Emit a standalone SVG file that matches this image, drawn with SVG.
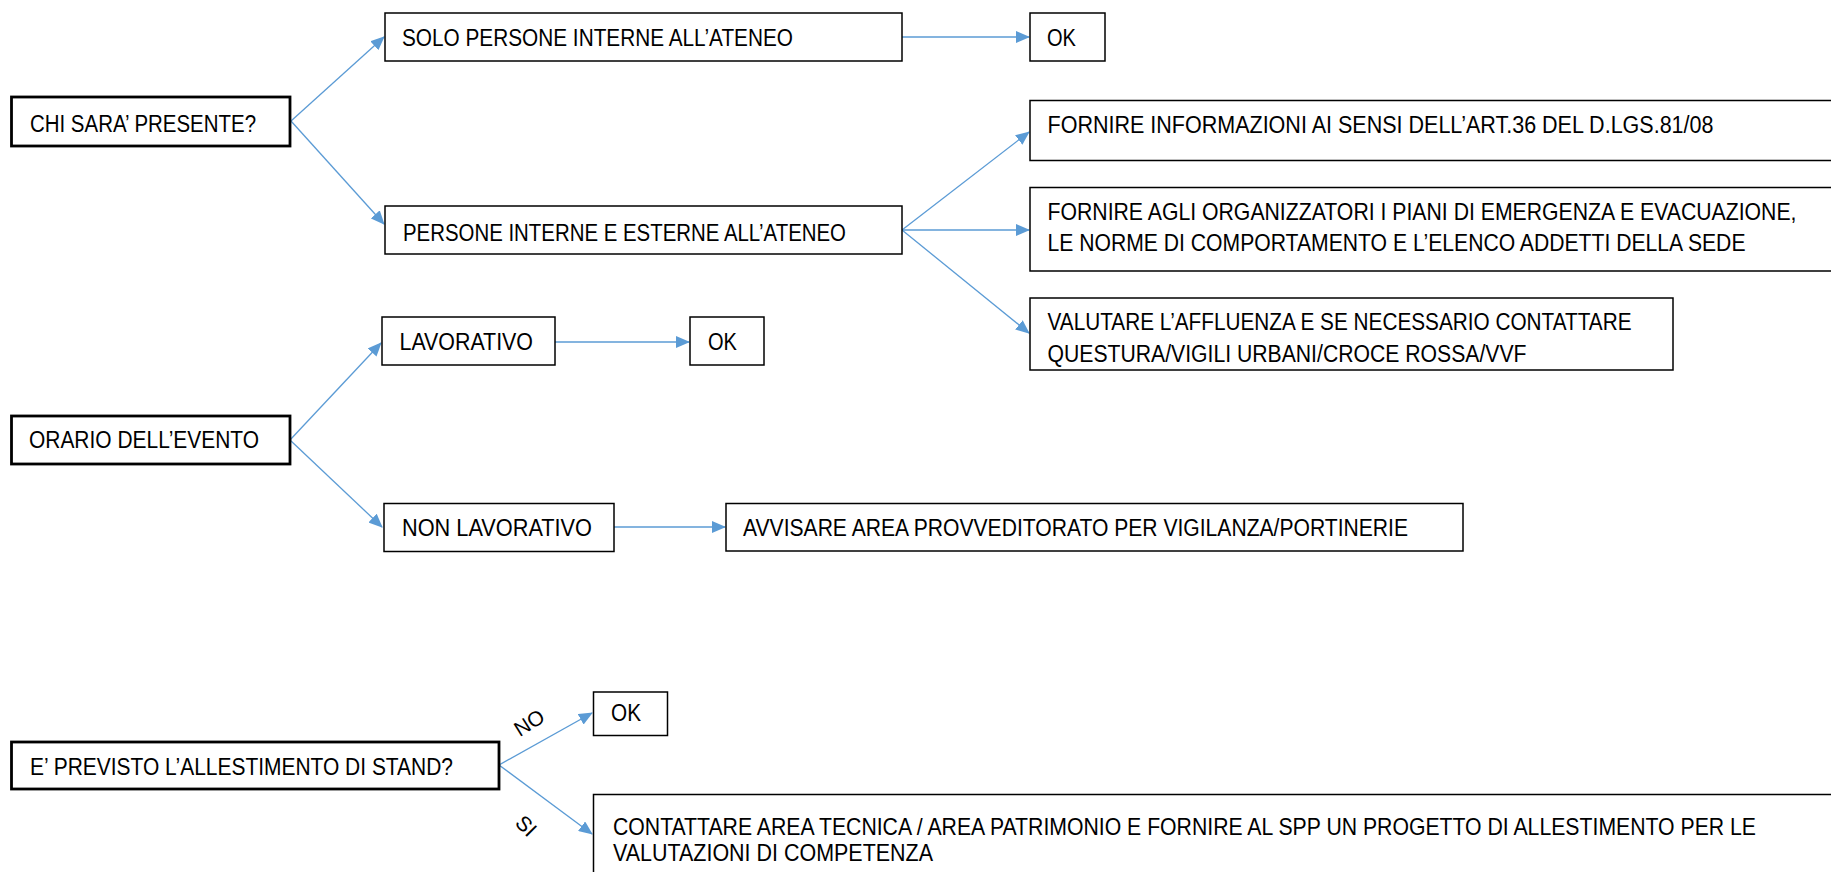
<svg xmlns="http://www.w3.org/2000/svg" width="1831" height="872" viewBox="0 0 1831 872">
<defs>
<style>
.box{fill:#fff;stroke:#000;stroke-width:1.5}
.open{fill:none;stroke:#000;stroke-width:1.5}
.q{fill:#fff;stroke:#000;stroke-width:2.8}
.t{font-family:"Liberation Sans",Arial,sans-serif;font-size:23.5px;fill:#000}
.tn{font-family:"Liberation Sans",Arial,sans-serif;font-size:22px;fill:#000}
.lbl{font-family:"Liberation Sans",Arial,sans-serif;font-size:21px;fill:#000}
.c{fill:none;stroke:#5B9BD5;stroke-width:1.3;marker-end:url(#ah)}
</style>
<marker id="ah" markerUnits="userSpaceOnUse" markerWidth="14" markerHeight="12" viewBox="0 0 14 12" refX="13" refY="6" orient="auto">
<path d="M0,0 L14,6 L0,12 Z" fill="#5B9BD5"/>
</marker>
</defs>
<rect width="1831" height="872" fill="#fff"/>
<g id="connectors">
<line class="c" x1="291" y1="121" x2="384" y2="37"/>
<line class="c" x1="291" y1="121" x2="384" y2="224"/>
<line class="c" x1="902" y1="37" x2="1029" y2="37"/>
<line class="c" x1="902" y1="230" x2="1029" y2="132"/>
<line class="c" x1="902" y1="230" x2="1029" y2="230"/>
<line class="c" x1="902" y1="230" x2="1029" y2="333"/>
<line class="c" x1="290" y1="440" x2="381" y2="343"/>
<line class="c" x1="290" y1="440" x2="382" y2="527"/>
<line class="c" x1="555" y1="342" x2="689" y2="342"/>
<line class="c" x1="614" y1="527" x2="725" y2="527"/>
<line class="c" x1="499" y1="765" x2="592" y2="713"/>
<line class="c" x1="499" y1="765" x2="592" y2="834"/>
</g>
<g id="q_chi">
<rect class="q" x="11.5" y="97" width="278.5" height="49"/>
<text class="t" x="30" y="132" textLength="226" lengthAdjust="spacingAndGlyphs">CHI SARA’ PRESENTE?</text>
</g>
<g id="n_solo">
<rect class="box" x="385" y="13" width="517" height="48"/>
<text class="t" x="402" y="46" textLength="391" lengthAdjust="spacingAndGlyphs">SOLO PERSONE INTERNE ALL’ATENEO</text>
</g>
<g id="n_ok1">
<rect class="box" x="1030" y="13" width="75" height="48"/>
<text class="t" x="1047" y="46" textLength="29" lengthAdjust="spacingAndGlyphs">OK</text>
</g>
<g id="n_pers">
<rect class="box" x="385" y="206" width="517" height="48"/>
<text class="t" x="403" y="241" textLength="443" lengthAdjust="spacingAndGlyphs">PERSONE INTERNE E ESTERNE ALL’ATENEO</text>
</g>
<g id="n_f1">
<path class="open" d="M1831,100.5 H1030 V160.5 H1831"/>
<text class="t" x="1047.5" y="133" textLength="666" lengthAdjust="spacingAndGlyphs">FORNIRE INFORMAZIONI AI SENSI DELL’ART.36 DEL D.LGS.81/08</text>
</g>
<g id="n_f2">
<path class="open" d="M1831,187.5 H1030 V271 H1831"/>
<text class="tn" x="0" y="0" transform="translate(1047.5,219.5) scale(1,1.068)" textLength="749" lengthAdjust="spacingAndGlyphs">FORNIRE AGLI ORGANIZZATORI I PIANI DI EMERGENZA E EVACUAZIONE,</text>
<text class="t" x="1047.5" y="250.5" textLength="698" lengthAdjust="spacingAndGlyphs">LE NORME DI COMPORTAMENTO E L’ELENCO ADDETTI DELLA SEDE</text>
</g>
<g id="n_valutare">
<rect class="box" x="1030" y="298" width="643" height="72"/>
<text class="t" x="1047.5" y="330" textLength="584" lengthAdjust="spacingAndGlyphs">VALUTARE L’AFFLUENZA E SE NECESSARIO CONTATTARE</text>
<text class="t" x="1047.5" y="361.5" textLength="479" lengthAdjust="spacingAndGlyphs">QUESTURA/VIGILI URBANI/CROCE ROSSA/VVF</text>
</g>
<g id="q_orario">
<rect class="q" x="11.5" y="416" width="278.5" height="48"/>
<text class="t" x="29" y="448" textLength="230" lengthAdjust="spacingAndGlyphs">ORARIO DELL’EVENTO</text>
</g>
<g id="n_lav">
<rect class="box" x="382" y="317" width="173" height="48"/>
<text class="t" x="399.5" y="350" textLength="133.5" lengthAdjust="spacingAndGlyphs">LAVORATIVO</text>
</g>
<g id="n_ok2">
<rect class="box" x="690" y="317" width="74" height="48"/>
<text class="t" x="708" y="350" textLength="29" lengthAdjust="spacingAndGlyphs">OK</text>
</g>
<g id="n_nonlav">
<rect class="box" x="384" y="503.5" width="230" height="48"/>
<text class="t" x="402" y="536" textLength="190" lengthAdjust="spacingAndGlyphs">NON LAVORATIVO</text>
</g>
<g id="n_avvisare">
<rect class="box" x="726" y="503.5" width="737" height="47.5"/>
<text class="t" x="743" y="535.5" textLength="665" lengthAdjust="spacingAndGlyphs">AVVISARE AREA PROVVEDITORATO PER VIGILANZA/PORTINERIE</text>
</g>
<g id="q_stand">
<rect class="q" x="11.5" y="742" width="487.5" height="47"/>
<text class="t" x="30" y="775" textLength="423" lengthAdjust="spacingAndGlyphs">E’ PREVISTO L’ALLESTIMENTO DI STAND?</text>
</g>
<g id="n_ok3">
<rect class="box" x="593.5" y="692" width="74" height="43.5"/>
<text class="t" x="611" y="721" textLength="30" lengthAdjust="spacingAndGlyphs">OK</text>
</g>
<g id="n_contattare">
<path class="open" d="M1831,794.5 H593.5 V872"/>
<text class="tn" x="0" y="0" transform="translate(613,835) scale(1,1.068)" textLength="1143" lengthAdjust="spacingAndGlyphs">CONTATTARE AREA TECNICA / AREA PATRIMONIO E FORNIRE AL SPP UN PROGETTO DI ALLESTIMENTO PER LE</text>
<text class="t" x="613" y="861" textLength="320" lengthAdjust="spacingAndGlyphs">VALUTAZIONI DI COMPETENZA</text>
</g>
<g id="labels">
<text class="lbl" x="0" y="0" text-anchor="middle" transform="translate(533,729) rotate(-32)">NO</text>
<text class="lbl" x="0" y="0" text-anchor="middle" transform="translate(521,831) rotate(45)">SI</text>
</g>
</svg>
